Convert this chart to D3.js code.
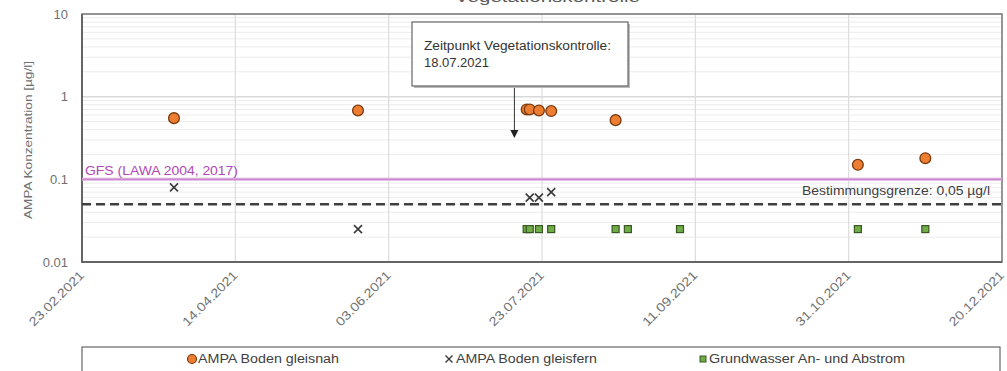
<!DOCTYPE html>
<html>
<head>
<meta charset="utf-8">
<script src="https://cdn.jsdelivr.net/npm/d3@7"></script>
<style>
body { margin: 0; background: #fff; }
svg text { font-family: "Liberation Sans", Arial, sans-serif; }
</style>
</head>
<body>
<div id="chart"></div>
<script>
// data
var xTickLabels = ["23.02.2021", "14.04.2021", "03.06.2021", "23.07.2021", "11.09.2021", "31.10.2021", "20.12.2021"];
var yTicks = [0.01, 0.1, 1, 10];

var gleisnahDates = ["25.03.2021", "24.05.2021", "18.07.2021", "19.07.2021", "22.07.2021", "26.07.2021", "16.08.2021", "03.11.2021", "25.11.2021"];
var gleisnahValues = [0.55, 0.68, 0.70, 0.70, 0.68, 0.67, 0.52, 0.15, 0.18];

var gleisfernDates = ["25.03.2021", "24.05.2021", "19.07.2021", "22.07.2021", "26.07.2021"];
var gleisfernValues = [0.08, 0.025, 0.06, 0.06, 0.07];

var gwDates = ["18.07.2021", "19.07.2021", "22.07.2021", "26.07.2021", "16.08.2021", "20.08.2021", "06.09.2021", "03.11.2021", "25.11.2021"];
var gwValues = [0.025, 0.025, 0.025, 0.025, 0.025, 0.025, 0.025, 0.025, 0.025];

var gfsValue = 0.1;
var bgValue = 0.05;
var annoDate = "14.07.2021";

var parse = d3.timeParse("%d.%m.%Y");
var width = 1007, height = 371;
var mLeft = 82, mRight = 1002, mTop = 14, mBottom = 262;

var svg = d3.select('#chart').append('svg')
    .attr('width', width)
    .attr('height', height);

var x = d3.scaleTime()
    .domain([parse(xTickLabels[0]), parse(xTickLabels[xTickLabels.length - 1])])
    .range([mLeft, mRight]);
var y = d3.scaleLog()
    .domain([0.01, 10])
    .range([mBottom, mTop]);

// the reference font is wider than Liberation Sans, stretch a bit
function label(sel, len) {
    return sel.attr("textLength", len).attr("lengthAdjust", "spacingAndGlyphs");
}

// title (cut off at the top, as in the original)
label(svg.append("text")
    .attr("x", 455).attr("y", 2)
    .style("font-size", "14px")
    .style("fill", "#595959")
    .text("Vegetationskontrolle"), 185);

// minor horizontal grid
var minor = [];
[0.01, 0.1, 1].forEach(function (d) {
    for (var k = 2; k <= 9; k++) minor.push(d * k);
});
svg.selectAll(".minor").data(minor).enter().append("line")
    .attr("x1", mLeft).attr("x2", mRight)
    .attr("y1", function (d) { return y(d); })
    .attr("y2", function (d) { return y(d); })
    .style("stroke", "#ececec").style("stroke-width", 1);

// major grid
svg.selectAll(".hmajor").data(yTicks).enter().append("line")
    .attr("x1", mLeft).attr("x2", mRight)
    .attr("y1", function (d) { return y(d); })
    .attr("y2", function (d) { return y(d); })
    .style("stroke", "#d9d9d9").style("stroke-width", 1.5);
svg.selectAll(".vmajor").data(xTickLabels).enter().append("line")
    .attr("x1", function (d) { return x(parse(d)); })
    .attr("x2", function (d) { return x(parse(d)); })
    .attr("y1", mTop).attr("y2", mBottom)
    .style("stroke", "#dcdcdc").style("stroke-width", 1.2);

// plot border
svg.append("rect")
    .attr("x", mLeft).attr("y", mTop)
    .attr("width", mRight - mLeft).attr("height", mBottom - mTop)
    .style("fill", "none").style("stroke", "#7a7a7a").style("stroke-width", 1.5);
svg.append("path")
    .attr("d", "M" + mLeft + "," + mTop + "V" + mBottom + "H" + mRight)
    .style("fill", "none").style("stroke", "#555").style("stroke-width", 1.5);

// y axis labels
svg.selectAll(".ylab").data(yTicks).enter().append("text")
    .attr("x", 68)
    .attr("y", function (d) { return y(d); })
    .attr("dy", "0.35em")
    .attr("text-anchor", "end")
    .style("font-size", "13px").style("fill", "#707070")
    .text(function (d) { return d; });

label(svg.append("text")
    .attr("transform", "translate(32,140) rotate(-90)")
    .attr("text-anchor", "middle")
    .style("font-size", "11.5px").style("fill", "#707070")
    .text("AMPA Konzentration [µg/l]"), 158);

// x axis labels
label(svg.selectAll(".xlab").data(xTickLabels).enter().append("text")
    .attr("transform", function (d) {
        return "translate(" + (x(parse(d)) + 3) + ",276) rotate(-45)";
    })
    .attr("text-anchor", "end")
    .style("font-size", "12.5px").style("fill", "#707070")
    .text(function (d) { return d; }), 72);

// GFS line
svg.append("line")
    .attr("x1", mLeft).attr("x2", mRight)
    .attr("y1", y(gfsValue)).attr("y2", y(gfsValue))
    .style("stroke", "#dcaede").style("stroke-width", 3);
svg.append("line")
    .attr("x1", mLeft).attr("x2", mRight)
    .attr("y1", y(gfsValue)).attr("y2", y(gfsValue))
    .style("stroke", "#c77fcc").style("stroke-width", 1);
label(svg.append("text")
    .attr("x", mLeft + 3).attr("y", y(gfsValue) - 4)
    .style("font-size", "12.5px").style("fill", "#b048b8")
    .text("GFS (LAWA 2004, 2017)"), 153);

// Bestimmungsgrenze
svg.append("line")
    .attr("x1", mLeft).attr("x2", mRight)
    .attr("y1", y(bgValue)).attr("y2", y(bgValue))
    .style("stroke", "#404040").style("stroke-width", 2.5)
    .style("stroke-dasharray", "9,5");
label(svg.append("text")
    .attr("x", 802).attr("y", y(bgValue) - 9)
    .style("font-size", "12.5px").style("fill", "#404040")
    .text("Bestimmungsgrenze:  0,05 µg/l"), 188);

// Grundwasser squares
svg.selectAll(".gw").data(d3.zip(gwDates, gwValues)).enter().append("rect")
    .attr("x", function (d) { return x(parse(d[0])) - 3.5; })
    .attr("y", function (d) { return y(d[1]) - 3.5; })
    .attr("width", 7).attr("height", 7)
    .style("fill", "#70ad47").style("stroke", "#385723").style("stroke-width", 1.2);

// gleisfern crosses
var cross = "M-4,-4L4,4M-4,4L4,-4";
svg.selectAll(".gf").data(d3.zip(gleisfernDates, gleisfernValues)).enter().append("path")
    .attr("transform", function (d) {
        return "translate(" + x(parse(d[0])) + "," + y(d[1]) + ")";
    })
    .attr("d", cross)
    .style("fill", "none").style("stroke", "#3a3a3a").style("stroke-width", 1.6);

// gleisnah circles
svg.selectAll(".gn").data(d3.zip(gleisnahDates, gleisnahValues)).enter().append("circle")
    .attr("cx", function (d) { return x(parse(d[0])); })
    .attr("cy", function (d) { return y(d[1]); })
    .attr("r", 5.4)
    .style("fill", "#ed7d31").style("stroke", "#7a3a10").style("stroke-width", 1.3);

// annotation box + arrow
var ax = x(parse(annoDate));
svg.append("line")
    .attr("x1", ax).attr("x2", ax)
    .attr("y1", 87).attr("y2", 131)
    .style("stroke", "#333").style("stroke-width", 1);
svg.append("path")
    .attr("d", "M" + (ax - 4) + ",130L" + (ax + 4) + ",130L" + ax + ",138Z")
    .style("fill", "#222");
svg.append("rect")
    .attr("x", 414).attr("y", 24)
    .attr("width", 216).attr("height", 64)
    .style("fill", "#bbb");
svg.append("rect")
    .attr("x", 412).attr("y", 22)
    .attr("width", 216).attr("height", 64)
    .style("fill", "#fff").style("stroke", "#666").style("stroke-width", 1.2);
label(svg.append("text")
    .attr("x", 424).attr("y", 50)
    .style("font-size", "12.5px").style("fill", "#333")
    .text("Zeitpunkt Vegetationskontrolle:"), 187);
label(svg.append("text")
    .attr("x", 424).attr("y", 67)
    .style("font-size", "12.5px").style("fill", "#333")
    .text("18.07.2021"), 65);

// legend
svg.append("rect")
    .attr("x", mLeft).attr("y", 347)
    .attr("width", mRight - mLeft - 2).attr("height", 40)
    .style("fill", "#fff").style("stroke", "#666").style("stroke-width", 1.2);
var lg = 359;
svg.append("circle")
    .attr("cx", 192).attr("cy", lg).attr("r", 4.5)
    .style("fill", "#ed7d31").style("stroke", "#7a3a10").style("stroke-width", 1.2);
label(svg.append("text")
    .attr("x", 198).attr("y", lg).attr("dy", "0.35em")
    .style("font-size", "12.5px").style("fill", "#404040")
    .text("AMPA Boden gleisnah"), 141);
svg.append("path")
    .attr("transform", "translate(449," + lg + ")")
    .attr("d", "M-3.5,-3.5L3.5,3.5M-3.5,3.5L3.5,-3.5")
    .style("fill", "none").style("stroke", "#3a3a3a").style("stroke-width", 1.4);
label(svg.append("text")
    .attr("x", 456).attr("y", lg).attr("dy", "0.35em")
    .style("font-size", "12.5px").style("fill", "#404040")
    .text("AMPA Boden gleisfern"), 141);
svg.append("rect")
    .attr("x", 700).attr("y", lg - 3)
    .attr("width", 6).attr("height", 6)
    .style("fill", "#70ad47").style("stroke", "#385723").style("stroke-width", 1);
label(svg.append("text")
    .attr("x", 709).attr("y", lg).attr("dy", "0.35em")
    .style("font-size", "12.5px").style("fill", "#404040")
    .text("Grundwasser An- und Abstrom"), 196);
</script>
</body>
</html>
